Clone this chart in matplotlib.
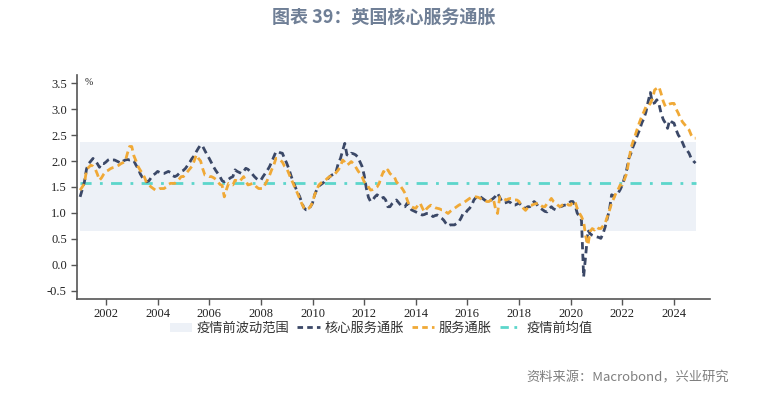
import numpy as np
import matplotlib
matplotlib.use('Agg')
from matplotlib import pyplot as plt
from matplotlib.patches import Patch
from matplotlib.lines import Line2D

plt.rcParams['font.family'] = ['Noto Sans CJK SC', 'DejaVu Sans']

# 核心服务通胀（月度，2001年1月起）
core = [
    1.31, 1.45, 1.60, 1.85, 1.95, 2.00, 2.05, 2.00, 1.95, 1.88, 1.96, 1.95,  # 2001
    1.98, 2.02, 2.04, 2.02, 2.02, 2.00, 1.98, 1.96, 2.00, 2.02, 2.03, 2.02,  # 2002
    2.03, 2.00, 1.92, 1.85, 1.75, 1.68, 1.63, 1.60, 1.62, 1.68, 1.73, 1.76,  # 2003
    1.80, 1.78, 1.76, 1.76, 1.78, 1.80, 1.78, 1.72, 1.70, 1.72, 1.76, 1.80,  # 2004
    1.82, 1.86, 1.92, 1.98, 2.05, 2.10, 2.18, 2.25, 2.31, 2.28, 2.20, 2.12,  # 2005
    2.05, 1.97, 1.89, 1.82, 1.76, 1.70, 1.62, 1.60, 1.63, 1.65, 1.68, 1.70,  # 2006
    1.83, 1.80, 1.78, 1.76, 1.80, 1.86, 1.84, 1.80, 1.75, 1.70, 1.66, 1.63,  # 2007
    1.63, 1.70, 1.76, 1.82, 1.89, 1.98, 2.08, 2.18, 2.18, 2.16, 2.15, 2.05,  # 2008
    1.96, 1.85, 1.72, 1.60, 1.50, 1.40, 1.32, 1.20, 1.10, 1.06, 1.06, 1.12,  # 2009
    1.19, 1.35, 1.45, 1.52, 1.55, 1.58, 1.63, 1.65, 1.70, 1.73, 1.75, 1.80,  # 2010
    1.96, 2.05, 2.20, 2.34, 2.12, 2.10, 2.15, 2.14, 2.12, 2.08, 1.99, 1.90,  # 2011
    1.73, 1.48, 1.30, 1.22, 1.25, 1.31, 1.35, 1.32, 1.28, 1.30, 1.25, 1.12,  # 2012
    1.12, 1.18, 1.22, 1.25, 1.20, 1.15, 1.12, 1.12, 1.19, 1.12, 1.06, 1.04,  # 2013
    1.02, 1.00, 0.98, 0.96, 0.97, 0.99, 0.99, 0.96, 0.93, 0.95, 0.96, 0.93,  # 2014
    0.90, 0.86, 0.80, 0.75, 0.77, 0.77, 0.77, 0.80, 0.83, 0.90, 0.99, 0.99,  # 2015
    1.05, 1.09, 1.15, 1.25, 1.30, 1.33, 1.31, 1.28, 1.25, 1.22, 1.22, 1.25,  # 2016
    1.28, 1.32, 1.38, 1.30, 1.22, 1.19, 1.20, 1.22, 1.20, 1.15, 1.15, 1.17,  # 2017
    1.19, 1.15, 1.10, 1.09, 1.12, 1.12, 1.18, 1.22, 1.18, 1.12, 1.09, 1.06,  # 2018
    1.03, 1.02, 1.08, 1.12, 1.08, 1.06, 1.10, 1.12, 1.13, 1.15, 1.15, 1.18,  # 2019
    1.22, 1.22, 1.15, 1.00, 0.93, 0.86, -0.23, 0.20, 0.67, 0.60, 0.57, 0.55,  # 2020
    0.54, 0.53, 0.51, 0.60, 0.73, 0.90, 1.06, 1.35, 1.33, 1.33, 1.38, 1.45,  # 2021
    1.54, 1.68, 1.83, 2.05, 2.15, 2.28, 2.38, 2.50, 2.60, 2.73, 2.82, 2.95,  # 2022
    3.15, 3.32, 3.11, 3.12, 3.18, 3.10, 2.92, 2.80, 2.73, 2.63, 2.79, 2.75,  # 2023
    2.73, 2.60, 2.50, 2.44, 2.35, 2.25, 2.21, 2.15, 2.05, 2.00, 1.96,        # 2024
]

# 服务通胀
services = [
    1.44, 1.50, 1.57, 1.83, 1.88, 1.92, 1.90, 1.85, 1.75, 1.63, 1.68, 1.75,  # 2001
    1.80, 1.82, 1.85, 1.87, 1.88, 1.90, 1.92, 1.95, 1.97, 2.00, 2.15, 2.28,  # 2002
    2.28, 2.10, 2.00, 1.89, 1.82, 1.76, 1.68, 1.57, 1.54, 1.50, 1.47, 1.44,  # 2003
    1.44, 1.47, 1.47, 1.47, 1.50, 1.55, 1.57, 1.57, 1.57, 1.60, 1.65, 1.70,  # 2004
    1.70, 1.75, 1.80, 1.85, 1.90, 2.00, 2.12, 2.05, 2.00, 1.85, 1.73, 1.72,  # 2005
    1.70, 1.70, 1.68, 1.65, 1.60, 1.55, 1.53, 1.31, 1.45, 1.57, 1.55, 1.54,  # 2006
    1.63, 1.62, 1.60, 1.65, 1.70, 1.62, 1.54, 1.55, 1.57, 1.55, 1.50, 1.47,  # 2007
    1.47, 1.47, 1.55, 1.63, 1.72, 1.83, 1.92, 2.05, 2.05, 2.02, 1.98, 1.90,  # 2008
    1.86, 1.76, 1.66, 1.57, 1.47, 1.38, 1.28, 1.18, 1.10, 1.06, 1.08, 1.12,  # 2009
    1.20, 1.35, 1.45, 1.54, 1.58, 1.60, 1.63, 1.67, 1.70, 1.72, 1.73, 1.78,  # 2010
    1.83, 1.90, 2.02, 1.98, 1.92, 1.95, 1.99, 1.95, 1.89, 1.82, 1.76, 1.70,  # 2011
    1.60, 1.57, 1.50, 1.44, 1.45, 1.47, 1.50, 1.57, 1.70, 1.80, 1.76, 1.83,  # 2012
    1.76, 1.72, 1.70, 1.60, 1.55, 1.51, 1.45, 1.38, 1.25, 1.15, 1.12, 1.10,  # 2013
    1.09, 1.15, 1.19, 1.10, 1.02, 1.08, 1.12, 1.15, 1.12, 1.10, 1.09, 1.08,  # 2014
    1.06, 1.06, 1.02, 0.99, 1.03, 1.06, 1.09, 1.12, 1.15, 1.17, 1.19, 1.22,  # 2015
    1.25, 1.28, 1.30, 1.31, 1.31, 1.30, 1.28, 1.25, 1.25, 1.22, 1.22, 1.25,  # 2016
    1.28, 1.09, 0.99, 1.31, 1.30, 1.27, 1.25, 1.27, 1.28, 1.28, 1.25, 1.25,  # 2017
    1.22, 1.15, 1.09, 1.05, 1.10, 1.15, 1.15, 1.17, 1.18, 1.19, 1.15, 1.12,  # 2018
    1.12, 1.18, 1.22, 1.28, 1.22, 1.19, 1.15, 1.12, 1.15, 1.17, 1.19, 1.15,  # 2019
    1.15, 1.22, 1.22, 1.09, 1.00, 0.93, 0.83, 0.54, 0.38, 0.64, 0.70, 0.67,  # 2020
    0.73, 0.70, 0.70, 0.75, 0.80, 0.93, 1.05, 1.19, 1.28, 1.38, 1.45, 1.54,  # 2021
    1.54, 1.65, 1.76, 2.00, 2.25, 2.38, 2.50, 2.63, 2.75, 2.86, 2.95, 3.05,  # 2022
    3.05, 3.11, 3.20, 3.37, 3.40, 3.43, 3.30, 3.15, 3.05, 3.08, 3.10, 3.11,  # 2023
    3.11, 3.00, 2.92, 2.82, 2.75, 2.70, 2.65, 2.60, 2.50, 2.44, 2.44,        # 2024
]

band_low = 0.65     # 疫情前波动范围
band_high = 2.37
pre_mean = 1.57     # 疫情前均值
start_year = 2001

x = start_year + np.arange(len(core)) / 12.0

c_core = '#3b4867'
c_serv = '#f0a936'
c_mean = '#5cd6cb'
c_band = '#edf1f7'

fig = plt.figure(figsize=(7.75, 3.94), dpi=100)
ax = fig.add_axes([0.0997, 0.240, 0.8163, 0.570])

ax.fill_between(x, band_low, band_high, color=c_band, lw=0, zorder=1)
ax.plot(x, [pre_mean] * len(x), color=c_mean, lw=2.0, dashes=(4, 3, 1, 3), zorder=2)
ax.plot(x, core, color=c_core, lw=2.0, dashes=(2.6, 1.6), zorder=3)
ax.plot(x, services, color=c_serv, lw=2.0, dashes=(2.6, 1.6), zorder=4)

ax.set_xlim(2000.89, 2025.39)
ax.set_ylim(-0.666, 3.66)
ax.set_yticks(np.arange(-0.5, 3.51, 0.5))
ax.set_yticklabels(['%.1f' % v for v in np.arange(-0.5, 3.51, 0.5)],
                   family='Liberation Serif', fontsize=9)
ax.set_xticks(range(2002, 2025, 2))
ax.set_xticklabels([str(y) for y in range(2002, 2025, 2)],
                   family='Liberation Serif', fontsize=9)

for s in ['top', 'right']:
    ax.spines[s].set_visible(False)
for s in ['left', 'bottom']:
    ax.spines[s].set_color('#555555')
    ax.spines[s].set_linewidth(1.2)
ax.tick_params(axis='both', colors='#555555', labelcolor='#222222', length=4, width=1)
ax.tick_params(axis='x', pad=2)

ax.text(0.012, 0.985, '%', transform=ax.transAxes, fontsize=7, va='top', ha='left',
        family='Liberation Serif', color='#222222')

handles = [
    Patch(facecolor=c_band, edgecolor='none'),
    Line2D([], [], color=c_core, lw=2.0, dashes=(2, 1.5)),
    Line2D([], [], color=c_serv, lw=2.0, dashes=(2, 1.5)),
    Line2D([], [], color=c_mean, lw=2.0, dashes=(3, 2, 1, 2)),
]
labels = ['疫情前波动范围', '核心服务通胀', '服务通胀', '疫情前均值']
fig.legend(handles, labels, loc='center', bbox_to_anchor=(0.492, 0.166), ncol=4,
           frameon=False, fontsize=9.5, handlelength=1.7, handletextpad=0.35,
           columnspacing=0.6, borderpad=0.1, labelcolor='#333333')

fig.text(0.495, 0.955, '图表 39：英国核心服务通胀', ha='center', va='center',
         fontsize=13, color='#6f7f96', fontweight='bold')
fig.text(0.94, 0.04, '资料来源：Macrobond，兴业研究', ha='right', va='center',
         fontsize=9.5, color='#7f7f7f')

fig.savefig('out.png', dpi=100)
